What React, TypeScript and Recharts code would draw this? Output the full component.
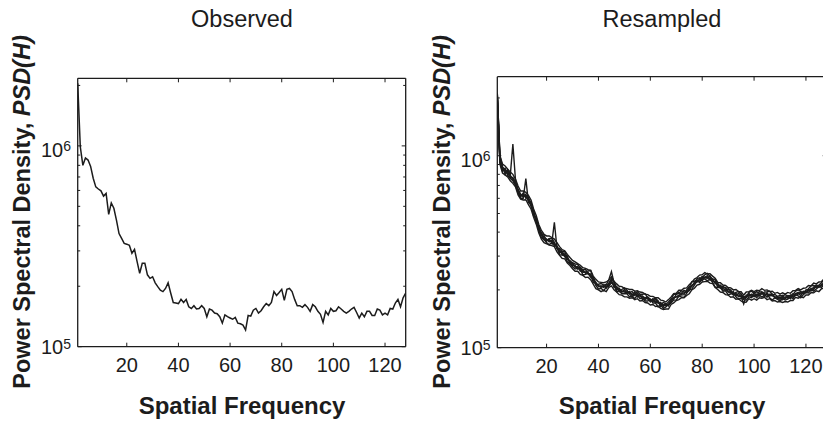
import React from 'react';
import { LineChart, Line, XAxis, YAxis } from 'recharts';

// spatial frequency bins 1..128
const freq = Array.from({ length: 128 }, (_, i) => i + 1);

// PSD values in thousands
const observed = [
  2050, 990, 800, 870, 850, 790, 690, 625, 610, 597,
  562, 580, 456, 520, 489, 427, 366, 346, 327, 324,
  320, 292, 305, 265, 232, 260, 260, 228, 219, 223,
  208, 199, 191, 188, 195, 208, 185, 166, 165, 164,
  172, 166, 172, 158, 155, 160, 154, 155, 160, 155,
  141, 154, 152, 147, 146, 141, 131, 144, 141, 139,
  137, 140, 131, 130, 128, 121, 143, 142, 152, 155,
  147, 151, 158, 164, 160, 166, 188, 180, 186, 193,
  170, 193, 195, 188, 172, 160, 160, 157, 162, 157,
  150, 162, 158, 150, 145, 132, 150, 144, 155, 150,
  151, 158, 154, 150, 147, 150, 154, 157, 148, 139,
  147, 141, 150, 150, 143, 143, 154, 152, 144, 147,
  144, 155, 154, 165, 172, 158, 175, 185,
];

const resampledA = [
  2100, 1000, 880, 800, 850, 790, 1150, 750, 650, 610,
  640, 600, 610, 545, 515, 450, 427, 394, 385, 360,
  369, 372, 354, 328, 328, 316, 316, 295, 277, 277,
  273, 272, 260, 247, 248, 251, 252, 230, 213, 214,
  216, 212, 204, 217, 229, 220, 206, 196, 201, 205,
  199, 190, 184, 191, 196, 190, 190, 191, 181, 173,
  178, 181, 175, 167, 172, 169, 165, 178, 190, 190,
  192, 198, 195, 194, 206, 221, 222, 226, 221, 232,
  240, 244, 235, 228, 227, 214, 204, 209, 204, 205,
  196, 188, 194, 196, 191, 182, 182, 194, 197, 192,
  196, 192, 190, 195, 195, 197, 190, 182, 185, 187,
  186, 189, 185, 180, 189, 197, 200, 196, 195, 194,
  203, 210, 211, 208, 212, 218, 227, 224,
];

const resampledB = [
  2000, 920, 830, 860, 790, 760, 740, 700, 640, 600,
  600, 760, 570, 575, 485, 478, 407, 374, 366, 353,
  344, 351, 340, 338, 305, 304, 301, 280, 274, 264,
  257, 259, 258, 239, 241, 244, 233, 227, 211, 202,
  204, 198, 206, 209, 218, 212, 196, 198, 191, 191,
  191, 184, 186, 180, 188, 180, 182, 175, 175, 179,
  171, 171, 163, 167, 160, 163, 168, 171, 177, 177,
  186, 184, 183, 192, 200, 202, 212, 222, 219, 228,
  228, 223, 228, 219, 207, 206, 206, 197, 198, 189,
  190, 192, 184, 179, 181, 178, 177, 184, 182, 188,
  182, 188, 184, 187, 189, 182, 177, 182, 179, 175,
  180, 177, 179, 184, 180, 189, 186, 182, 189, 194,
  193, 200, 197, 202, 208, 206, 214, 216,
];

const resampledC = [
  2080, 970, 850, 830, 830, 770, 770, 730, 670, 630,
  610, 630, 580, 550, 510, 455, 420, 385, 365, 360,
  370, 350, 450, 330, 312, 318, 298, 300, 275, 268,
  268, 257, 263, 254, 244, 246, 235, 234, 217, 210,
  206, 212, 214, 211, 224, 206, 208, 202, 195, 201,
  193, 196, 188, 195, 184, 188, 178, 182, 183, 175,
  180, 171, 174, 164, 167, 169, 166, 172, 183, 184,
  184, 192, 199, 196, 198, 212, 214, 229, 231, 223,
  233, 237, 225, 228, 216, 216, 208, 199, 200, 201,
  200, 190, 192, 184, 185, 169, 188, 186, 190, 184,
  190, 186, 196, 189, 183, 190, 190, 184, 179, 184,
  178, 184, 181, 188, 183, 191, 194, 186, 197, 196,
  197, 204, 201, 210, 206, 214, 212, 222,
];

const resampledD = [
  2030, 940, 870, 850, 800, 790, 750, 710, 650, 618,
  628, 608, 598, 568, 492, 470, 410, 395, 375, 368,
  356, 362, 345, 338, 322, 306, 308, 288, 284, 276,
  262, 265, 250, 254, 256, 242, 242, 218, 219, 208,
  210, 206, 212, 226, 249, 218, 200, 204, 195, 197,
  197, 194, 196, 187, 192, 186, 186, 178, 184, 179,
  174, 179, 170, 172, 164, 168, 173, 180, 179, 190,
  194, 188, 189, 200, 208, 208, 220, 220, 228, 235,
  231, 230, 237, 221, 222, 208, 212, 205, 206, 195,
  192, 196, 186, 192, 187, 184, 186, 192, 184, 194,
  186, 196, 194, 185, 193, 186, 188, 190, 185, 178,
  187, 180, 187, 186, 191, 187, 190, 196, 191, 200,
  201, 198, 207, 212, 210, 210, 220, 218,
];

const resampledE = [
  1990, 905, 812, 795, 775, 740, 718, 688, 625, 594,
  588, 590, 556, 528, 478, 440, 396, 368, 352, 348,
  342, 340, 336, 316, 303, 292, 290, 276, 268, 258,
  250, 250, 241, 238, 232, 233, 226, 214, 203, 200,
  196, 199, 196, 206, 210, 200, 195, 189, 188, 184,
  184, 181, 182, 178, 180, 175, 176, 172, 171, 167,
  168, 164, 165, 160, 158, 159, 159, 168, 171, 176,
  178, 182, 182, 187, 191, 200, 204, 212, 214, 220,
  221, 222, 217, 216, 206, 201, 195, 194, 189, 188,
  183, 184, 179, 180, 175, 172, 173, 180, 177, 180,
  177, 182, 181, 183, 178, 180, 175, 176, 173, 174,
  172, 174, 173, 176, 176, 183, 181, 184, 182, 188,
  188, 194, 193, 198, 196, 203, 204, 211,
];

const resampledF = [
  2120, 1000, 905, 885, 850, 822, 800, 755, 695, 655,
  655, 645, 622, 588, 528, 488, 438, 408, 390, 382,
  382, 375, 368, 352, 336, 324, 320, 306, 295, 285,
  280, 274, 269, 261, 259, 255, 253, 236, 227, 220,
  219, 218, 220, 225, 234, 222, 215, 209, 208, 204,
  203, 201, 201, 197, 198, 195, 194, 190, 189, 185,
  185, 182, 182, 177, 176, 173, 178, 184, 191, 192,
  199, 199, 204, 205, 213, 219, 228, 232, 239, 240,
  246, 242, 243, 236, 230, 219, 218, 212, 211, 206,
  205, 200, 201, 196, 196, 188, 195, 196, 199, 196,
  199, 198, 203, 199, 200, 196, 197, 192, 194, 190,
  193, 190, 194, 192, 198, 199, 203, 200, 204, 205,
  211, 210, 217, 215, 220, 221, 228, 229,
];

const resampledG = [
  2050, 950, 860, 840, 810, 780, 760, 720, 660, 624,
  620, 615, 590, 560, 500, 465, 415, 390, 370, 364,
  362, 358, 350, 335, 318, 310, 304, 292, 280, 272,
  265, 262, 255, 249, 246, 244, 240, 225, 215, 210,
  208, 208, 208, 215, 222, 212, 204, 200, 197, 195,
  193, 192, 190, 189, 188, 186, 184, 182, 179, 177,
  176, 174, 172, 169, 167, 166, 168, 176, 181, 184,
  188, 190, 193, 196, 202, 210, 216, 222, 226, 230,
  233, 232, 230, 226, 218, 210, 206, 203, 200, 197,
  194, 192, 190, 188, 185, 180, 184, 188, 188, 188,
  188, 190, 192, 191, 189, 188, 186, 184, 183, 182,
  182, 182, 183, 184, 187, 191, 192, 192, 193, 196,
  199, 202, 205, 206, 208, 212, 216, 220,
];

const resampledSeries = [resampledA, resampledB, resampledC, resampledD, resampledE, resampledF, resampledG];

const xTicks = [20, 40, 60, 80, 100, 120];
const yTicks = [1e5, 2e5, 3e5, 4e5, 5e5, 6e5, 7e5, 8e5, 9e5, 1e6, 2e6];
const decades = [1e5, 1e6];

const INK = '#1c1c1c';
const FONT = '"Liberation Sans", Arial, Helvetica, sans-serif';

const observedData = freq.map((f, i) => ({ f, v: observed[i] * 1000 }));
const resampledData = freq.map((f, i) => {
  const row: Record<string, number> = { f };
  resampledSeries.forEach((s, k) => { row[`r${k}`] = s[i] * 1000; });
  return row;
});

function BottomTick({ x, y, payload }: any) {
  return (
    <g>
      <line x1={x} x2={x} y1={y} y2={y - 4} stroke={INK} strokeWidth={1} />
      <text x={x} y={y + 25} textAnchor="middle" fontSize={20} fill={INK} fontFamily={FONT}>
        {payload.value}
      </text>
    </g>
  );
}

function TopTick({ x, y }: any) {
  return <line x1={x} x2={x} y1={y} y2={y + 4} stroke={INK} strokeWidth={1} />;
}

function LeftTick({ x, y, payload }: any) {
  const v = payload.value;
  const major = decades.includes(v);
  if (!major) return <line x1={x} x2={x + 2.5} y1={y} y2={y} stroke={INK} strokeWidth={1} />;
  const exp = Math.round(Math.log10(v));
  const base = v === 1e5 ? y + 7.5 : y + 11;
  return (
    <g>
      <line x1={x} x2={x + 4} y1={y} y2={y} stroke={INK} strokeWidth={1} />
      <text x={x - 14.5} y={base} textAnchor="end" fontSize={20} fill={INK} fontFamily={FONT}>10</text>
      <text x={x - 14.5} y={base - 5.5} textAnchor="start" fontSize={14} fill={INK} fontFamily={FONT}>{exp}</text>
    </g>
  );
}

function RightTick({ x, y, payload }: any) {
  const len = decades.includes(payload.value) ? 4 : 2.5;
  return <line x1={x} x2={x - len} y1={y} y2={y} stroke={INK} strokeWidth={1} />;
}

const axisLine = { stroke: INK, strokeWidth: 1.3 };
// axes need a tiny positive size or Recharts skips drawing them
const THIN = 0.01;

function Frame({ top }: { top: number }) {
  return [
    <XAxis key="xb" xAxisId={0} type="number" dataKey="f" domain={[1, 128]} ticks={xTicks} interval={0}
      allowDataOverflow height={THIN} tickSize={0} tickMargin={0} tickLine={false} axisLine={axisLine} tick={<BottomTick />} />,
    <XAxis key="xt" xAxisId="top" orientation="top" type="number" dataKey="f" domain={[1, 128]} ticks={xTicks} interval={0}
      allowDataOverflow height={THIN} tickSize={0} tickMargin={0} tickLine={false} axisLine={axisLine} tick={<TopTick />} />,
    <YAxis key="yl" yAxisId={0} type="number" scale="log" domain={[1e5, top]} ticks={yTicks} interval={0}
      allowDataOverflow width={THIN} tickSize={0} tickMargin={0} tickLine={false} axisLine={axisLine} tick={<LeftTick />} />,
    <YAxis key="yr" yAxisId="right" orientation="right" type="number" scale="log" domain={[1e5, top]} ticks={yTicks} interval={0}
      allowDataOverflow width={THIN} tickSize={0} tickMargin={0} tickLine={false} axisLine={axisLine} tick={<RightTick />} />,
  ];
}

function PanelText({ cx, labelX, title }: { cx: number; labelX: number; title: string }) {
  return (
    <g fontFamily={FONT} fill={INK}>
      <text x={cx} y={27} textAnchor="middle" fontSize={23.5}>{title}</text>
      <text x={cx} y={414} textAnchor="middle" fontSize={24} fontWeight="bold">Spatial Frequency</text>
      <text transform={`translate(${labelX},212) rotate(-90)`} textAnchor="middle" fontSize={23.5} fontWeight="bold">
        Power Spectral Density, <tspan fontStyle="italic">PSD(H)</tspan>
      </text>
    </g>
  );
}

export default function App() {
  return (
    <div style={{ position: 'absolute', left: 0, top: 0, width: 823, height: 425, overflow: 'hidden', background: '#fff' }}>
      <div style={{ position: 'absolute', left: 0, top: 0 }}>
        <LineChart width={420} height={425} data={observedData} margin={{ top: 78.3, left: 77.7, right: 14.3, bottom: 78.3 }}>
          {Frame({ top: 2.17e6 })}
          <Line dataKey="v" stroke={INK} strokeWidth={1.5} dot={false} isAnimationActive={false} />
        </LineChart>
      </div>
      <div style={{ position: 'absolute', left: 420, top: 0 }}>
        <LineChart width={420} height={425} data={resampledData} margin={{ top: 76.7, left: 77.3, right: 13.3, bottom: 77.3 }}>
          {Frame({ top: 2.58e6 })}
          {resampledSeries.map((_, k) => (
            <Line key={k} dataKey={`r${k}`} stroke={INK} strokeWidth={1.4} dot={false} isAnimationActive={false} />
          ))}
        </LineChart>
      </div>
      <svg width={823} height={425} style={{ position: 'absolute', left: 0, top: 0, pointerEvents: 'none' }}>
        <PanelText cx={242} labelX={30} title="Observed" />
        <PanelText cx={662} labelX={450} title="Resampled" />
      </svg>
    </div>
  );
}
